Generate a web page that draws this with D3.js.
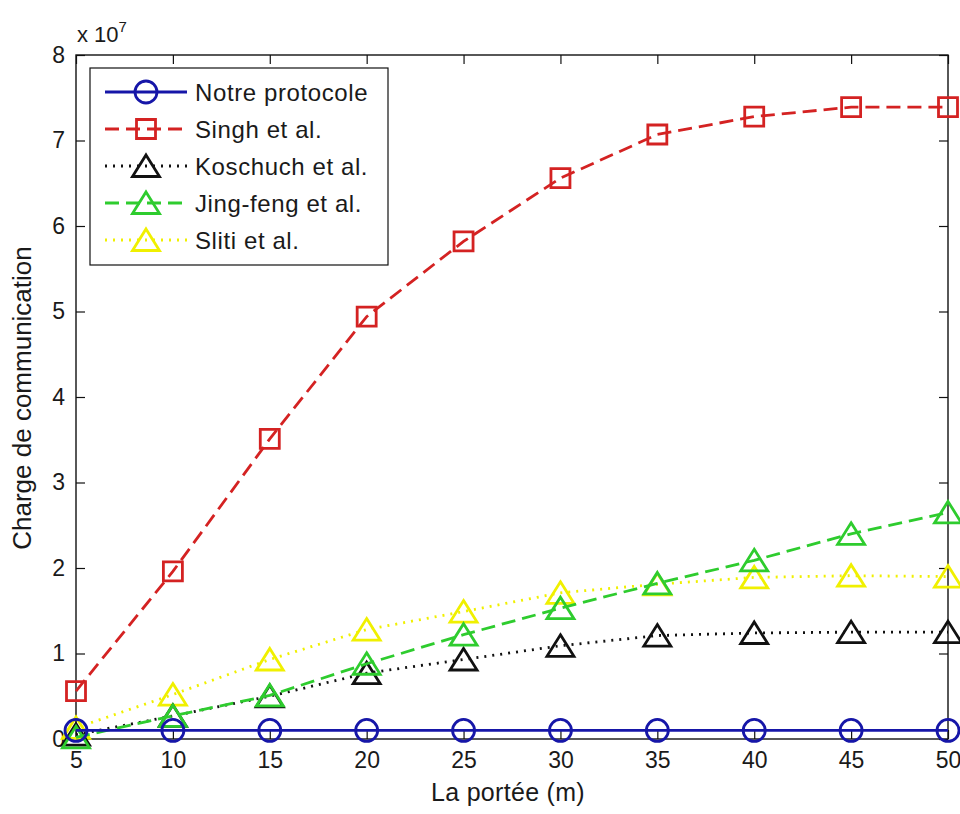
<!DOCTYPE html>
<html>
<head>
<meta charset="utf-8">
<script src="https://cdn.jsdelivr.net/npm/d3@7/dist/d3.min.js"></script>
<style>
    body { margin: 0; background: #fff; }
    text { font-family: "Liberation Sans", Arial, sans-serif; fill: #1a1a1a; }
</style>
</head>
<body>
<svg id="chart" width="960" height="814"></svg>
<script>
// values are in units of 10^7 (as on the y axis)
var ranges = [5, 10, 15, 20, 25, 30, 35, 40, 45, 50];
var notre = [0.1, 0.1, 0.1, 0.1, 0.1, 0.1, 0.1, 0.1, 0.1, 0.1];
var singh = [0.56, 1.96, 3.51, 4.94, 5.82, 6.56, 7.07, 7.28, 7.39, 7.39];
var koschuch = [0.05, 0.27, 0.5, 0.77, 0.93, 1.09, 1.21, 1.24, 1.25, 1.25];
var jingfeng = [0.02, 0.27, 0.51, 0.88, 1.22, 1.53, 1.82, 2.09, 2.4, 2.65];
var sliti = [0.13, 0.52, 0.93, 1.28, 1.49, 1.71, 1.81, 1.89, 1.91, 1.9];
var yTicks = [0, 1, 2, 3, 4, 5, 6, 7, 8];
var names = ['Notre protocole', 'Singh et al.', 'Koschuch et al.', 'Jing-feng et al.', 'Sliti et al.'];

// styles, same order as names
var colors = ['#1616a8', '#d42222', '#111111', '#2ecc2e', '#f0f000'];
var dashes = [null, '14,7', '2,6', '14,7', '2,6'];
var marks = ['circle', 'square', 'triangle', 'triangle', 'triangle'];

var series = [notre, singh, koschuch, jingfeng, sliti];

// note: "top" is taken by window.top, so use plot* names
var plotL = 76, plotR = 948, plotT = 55, plotB = 739;

var svg = d3.select('#chart');

var x = d3.scaleLinear().domain([5, 50]).range([plotL, plotR]);
var y = d3.scaleLinear().domain([0, 8]).range([plotB, plotT]);

// axes (ticks pointing inwards like matlab)
var xAxis = svg.append('g')
    .attr('transform', 'translate(0,' + plotB + ')')
    .call(d3.axisBottom(x).tickValues(ranges).tickSizeInner(-9).tickSizeOuter(0).tickPadding(13));
var yAxis = svg.append('g')
    .attr('transform', 'translate(' + plotL + ',0)')
    .call(d3.axisLeft(y).tickValues(yTicks).tickSizeInner(-9).tickSizeOuter(0).tickPadding(11));
svg.append('g')
    .attr('transform', 'translate(0,' + plotT + ')')
    .call(d3.axisTop(x).tickValues(ranges).tickSizeInner(-9).tickSizeOuter(0).tickFormat(''));
svg.append('g')
    .attr('transform', 'translate(' + plotR + ',0)')
    .call(d3.axisRight(y).tickValues(yTicks).tickSizeInner(-9).tickSizeOuter(0).tickFormat(''));

svg.selectAll('.domain').remove();
svg.selectAll('.tick line').attr('stroke', '#111').attr('stroke-width', 1.2);
[xAxis, yAxis].forEach(function (a) {
    a.selectAll('text')
        .attr('font-size', 23)
        .attr('font-family', '"Liberation Sans", Arial, sans-serif')
        .attr('fill', '#1a1a1a');
});

svg.append('rect')
    .attr('x', plotL).attr('y', plotT)
    .attr('width', plotR - plotL).attr('height', plotB - plotT)
    .attr('fill', 'none').attr('stroke', '#111').attr('stroke-width', 1.4);

// exponent label
var expo = svg.append('text').attr('x', 77).attr('y', 42).attr('font-size', 22);
expo.append('tspan').text('x 10');
expo.append('tspan').attr('dy', -10).attr('font-size', 15).text('7');

// axis titles
svg.append('text')
    .attr('x', (plotL + plotR) / 2 - 4).attr('y', 801)
    .attr('text-anchor', 'middle').attr('font-size', 25)
    .attr('letter-spacing', 0.3)
    .text('La portée (m)');
svg.append('text')
    .attr('transform', 'translate(31,' + ((plotT + plotB) / 2 + 1) + ') rotate(-90)')
    .attr('text-anchor', 'middle').attr('font-size', 26)
    .text('Charge de communication');

function markerPath(type) {
    if (type === 'circle') return d3.symbol().type(d3.symbolCircle).size(Math.PI * 11 * 11)();
    if (type === 'square') return 'M-9.5,-9.5H9.5V9.5H-9.5Z';
    return 'M0,-11L13.5,10.5H-13.5Z';
}

var line = d3.line()
    .x(function (d) { return x(d.x); })
    .y(function (d) { return y(d.v); });

// draw back to front so blue ends on top
var order = [4, 2, 3, 1, 0];
order.forEach(function (i) {
    var pts = ranges.map(function (r, j) { return { x: r, v: series[i][j] }; });
    var g = svg.append('g');
    g.append('path')
        .datum(pts)
        .attr('d', line)
        .attr('fill', 'none')
        .attr('stroke', colors[i])
        .attr('stroke-width', 2.8)
        .attr('stroke-dasharray', dashes[i]);
    g.selectAll('path.mk')
        .data(pts)
        .enter()
        .append('path')
        .attr('class', 'mk')
        .attr('d', markerPath(marks[i]))
        .attr('transform', function (d) { return 'translate(' + x(d.x) + ',' + y(d.v) + ')'; })
        .attr('fill', 'none')
        .attr('stroke', colors[i])
        .attr('stroke-width', 2.8);
});

// legend
var legend = svg.append('g');
legend.append('rect')
    .attr('x', 90).attr('y', 68).attr('width', 298).attr('height', 197)
    .attr('fill', '#fff').attr('stroke', '#111').attr('stroke-width', 1.2);

names.forEach(function (n, i) {
    var ly = 92 + i * 37;
    legend.append('line')
        .attr('x1', 105).attr('x2', 187).attr('y1', ly).attr('y2', ly)
        .attr('stroke', colors[i]).attr('stroke-width', 2.8)
        .attr('stroke-dasharray', dashes[i]);
    legend.append('path')
        .attr('d', markerPath(marks[i]))
        .attr('transform', 'translate(146,' + ly + ')')
        .attr('fill', 'none').attr('stroke', colors[i]).attr('stroke-width', 2.8);
    legend.append('text')
        .attr('x', 195).attr('y', ly + 9)
        .attr('font-size', 24)
        .attr('letter-spacing', 0.6)
        .text(n);
});
</script>
</body>
</html>
